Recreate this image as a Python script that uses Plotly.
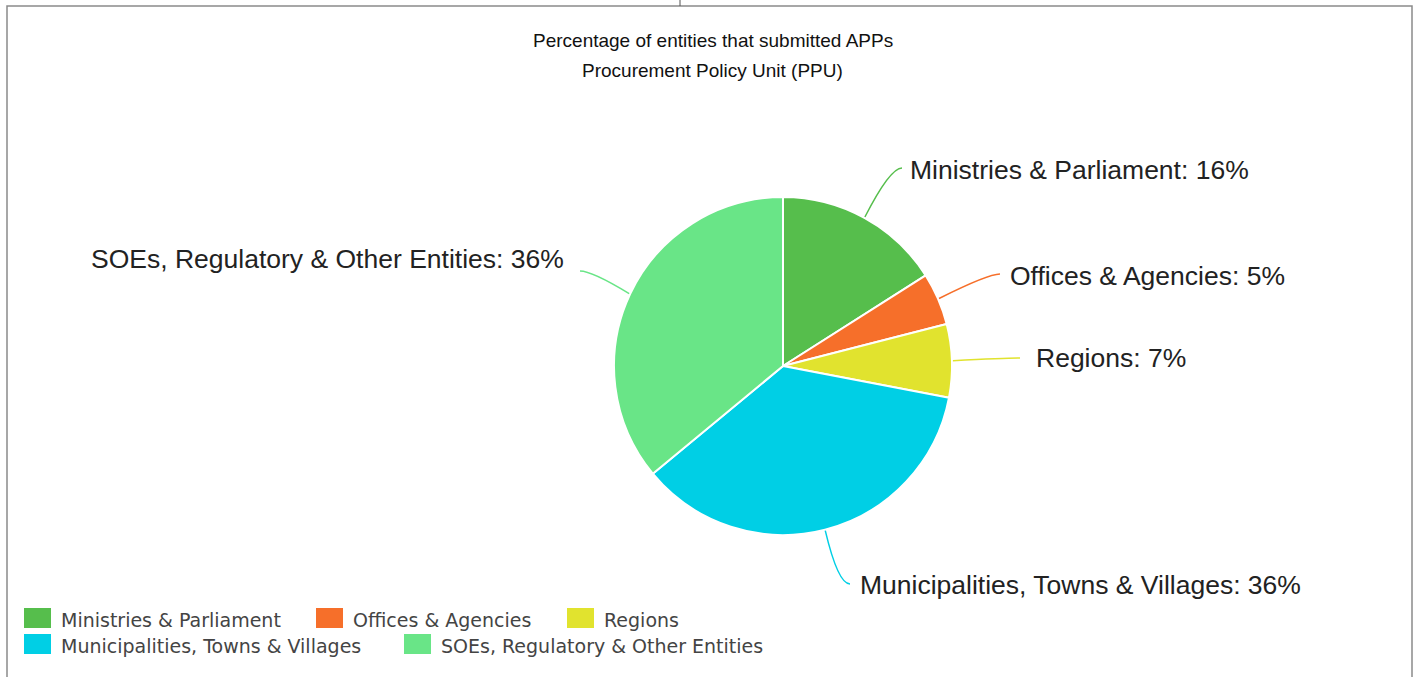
import math
import plotly.graph_objects as go

W, H = 1416, 677

# ---- data ----
categories = ["Ministries & Parliament", "Offices & Agencies", "Regions",
              "Municipalities, Towns & Villages", "SOEs, Regulatory & Other Entities"]
values = [16, 5, 7, 36, 36]
colors = ["#56BE4C", "#F66F2A", "#E1E32E", "#00CFE5", "#69E587"]
title_lines = ["Percentage of entities that submitted APPs", "Procurement Policy Unit (PPU)"]

# ---- layout helpers (pixel -> paper) ----
def X(px):
    return px / W

def Y(py):
    return 1 - py / H

# pie geometry (pixels)
cx, cy, R = 783, 366, 169
# label text anchor positions (pixels) and sides
label_pos = [(908, 170, "left"), (1008, 276, "left"), (1034, 358, "left"),
             (858, 585, "left"), (566, 259, "right")]
line_end = [(902, 168), (1000, 274), (1020, 358), (850, 584), (580, 271)]

fig = go.Figure()
fig.add_trace(go.Pie(
    labels=categories, values=values, sort=False, direction="clockwise", rotation=0,
    marker=dict(colors=colors, line=dict(color="white", width=2)),
    textinfo="none", hoverinfo="label+percent", showlegend=False,
    domain=dict(x=[X(cx - R), X(cx + R)], y=[Y(cy + R), Y(cy - R)]),
))

shapes = []
annotations = []

# border
shapes.append(dict(type="rect", xref="paper", yref="paper",
                   x0=X(7), x1=X(1412), y0=Y(720), y1=Y(6),
                   line=dict(color="#8a8a8a", width=1.5)))
shapes.append(dict(type="line", xref="paper", yref="paper",
                   x0=X(680), x1=X(680), y0=Y(0), y1=Y(6),
                   line=dict(color="#555", width=1)))

# title
for i, t in enumerate(title_lines):
    annotations.append(dict(text=t, x=X(713), y=Y(40 + 30 * i), xref="paper", yref="paper",
                            showarrow=False, xanchor="center", yanchor="middle",
                            font=dict(family="Liberation Sans, Arial", size=19, color="#111")))

# leader lines + labels, computed from data
total = sum(values)
cum = 0
for i, v in enumerate(values):
    mid = (cum + v / 2) / total * 2 * math.pi
    cum += v
    ax = cx + (R + 1) * math.sin(mid)
    ay = cy - (R + 1) * math.cos(mid)
    ex, ey = line_end[i]
    side = label_pos[i][2]
    ctrl_x = ex - 12 if side == "left" else ex + 12
    path = "M {:.5f} {:.5f} Q {:.5f} {:.5f} {:.5f} {:.5f}".format(
        X(ax), Y(ay), X(ctrl_x), Y(ey), X(ex), Y(ey))
    shapes.append(dict(type="path", xref="paper", yref="paper", path=path,
                       line=dict(color=colors[i], width=1.5)))
    lx, ly, anc = label_pos[i]
    pct = round(v / total * 100)
    annotations.append(dict(text="{}: {}%".format(categories[i], pct),
                            x=X(lx), y=Y(ly), xref="paper", yref="paper",
                            showarrow=False, xanchor=anc, yanchor="middle",
                            font=dict(family="Liberation Sans, Arial", size=26.5, color="#222")))

# custom legend
legend_pos = [(24, 618), (316, 618), (567, 618), (24, 644), (404, 644)]
for i, name in enumerate(categories):
    sx, sy = legend_pos[i]
    shapes.append(dict(type="rect", xref="paper", yref="paper",
                       x0=X(sx), x1=X(sx + 27), y0=Y(sy + 10), y1=Y(sy - 10),
                       fillcolor=colors[i], line=dict(color=colors[i], width=0)))
    annotations.append(dict(text=name, x=X(sx + 35), y=Y(sy + 2), xref="paper", yref="paper",
                            showarrow=False, xanchor="left", yanchor="middle",
                            font=dict(family="DejaVu Sans", size=19, color="#444")))

fig.update_layout(width=W, height=H, margin=dict(l=0, r=0, t=0, b=0),
                  paper_bgcolor="white", plot_bgcolor="white",
                  shapes=shapes, annotations=annotations, showlegend=False)

fig.write_html("out.html", config={"displayModeBar": False},
               post_script="document.body.style.margin='0';document.body.style.overflow='hidden';")
